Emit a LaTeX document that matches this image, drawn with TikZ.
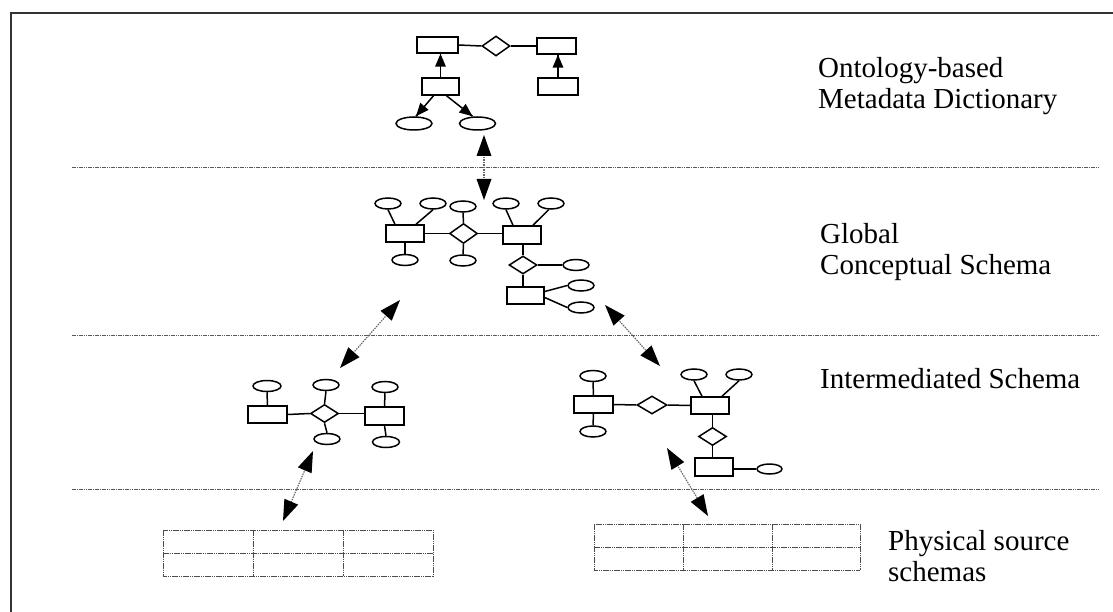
\documentclass[tikz,border=0pt]{standalone}
\usepackage{fontspec}
\setmainfont{Liberation Serif}
\usetikzlibrary{shapes.geometric,calc}
\newcommand{\headat}[4]{\fill[black] (#1) -- ($(#1)!#3!(#2)!#4!90:(#1)$) -- ($(#1)!#3!(#2)!#4!-90:(#1)$) -- cycle;}
\begin{document}
\begin{tikzpicture}[x=1pt,y=-1pt,
  er/.style={draw=black, line width=1.5pt},
  ent/.style={er, rectangle, minimum width=38pt, minimum height=17pt, inner sep=0pt},
  rel/.style={er, diamond, minimum width=28pt, minimum height=19pt, inner sep=0pt},
  attr/.style={er, ellipse, minimum width=26pt, minimum height=11pt, inner sep=0pt},
  bigattr/.style={er, ellipse, minimum width=36pt, minimum height=13pt, inner sep=0pt},
  sep/.style={draw=black!65, line width=0.9pt, dash pattern=on 1.6pt off 0.7pt},
  map/.style={draw=black!60, line width=1.1pt, dash pattern=on 1.5pt off 1pt},
  tbl/.style={draw=black!70, line width=0.9pt, dash pattern=on 1.6pt off 0.6pt},
  lbl/.style={font=\fontsize{29}{31}\selectfont, inner sep=0pt, anchor=west, align=left}
]
\useasboundingbox[fill=white] (0,0) rectangle (1113,612);
% frame
\coordinate (fTL) at (11,13);
\coordinate (fTR) at (1113,13);
\coordinate (fBL) at (11,612);
\draw[line width=1.6pt, black!80] (fBL) -- (fTL) -- (fTR);
% separators
\coordinate (s1a) at (72,167); \coordinate (s1b) at (1098,167);
\coordinate (s2a) at (72,335); \coordinate (s2b) at (1098,335);
\coordinate (s3a) at (72,489); \coordinate (s3b) at (1100,489);
\draw[sep] (s1a) -- (s1b);
\draw[sep] (s2a) -- (s2b);
\draw[sep] (s3a) -- (s3b);

% ---------- Ontology-based metadata dictionary ----------
\node[ent, minimum width=41pt, minimum height=16pt] (oA) at (437.5,45) {};
\node[rel, minimum height=20pt] (oR) at (496,46) {};
\node[ent, minimum width=39pt, minimum height=16pt] (oB) at (556.5,46) {};
\node[ent, minimum width=37pt] (oC) at (440.5,86.5) {};
\node[ent, minimum width=40pt] (oD) at (558,86.5) {};
\node[bigattr] (oE1) at (414,123.5) {};
\node[bigattr] (oE2) at (477.5,123.5) {};
\draw[er] (oA.east) -- (oR.west);
\draw[er] (oR.east) -- (oB.west);
\coordinate (i1s) at (oC.north); \coordinate (i1t) at (oC.north |- oA.south);
\coordinate (i2s) at (oD.north); \coordinate (i2t) at (oD.north |- oB.south);
\coordinate (i3s) at ([xshift=-7pt]oC.south); \coordinate (i3t) at ([xshift=2pt]oE1.north);
\coordinate (i4s) at ([xshift=6pt]oC.south); \coordinate (i4t) at ([xshift=-5pt]oE2.north);
\draw[er] (i1s) -- (i1t); \headat{i1t}{i1s}{13pt}{5.5pt}
\draw[er] (i2s) -- (i2t); \headat{i2t}{i2s}{13pt}{5.5pt}
\draw[er] (i3s) -- (i3t); \headat{i3t}{i3s}{13pt}{5.5pt}
\draw[er] (i4s) -- (i4t); \headat{i4t}{i4s}{13pt}{5.5pt}

% ---------- Global conceptual schema ----------
\node[attr] (g1) at (388,203.5) {};
\node[attr] (g2) at (433,203.5) {};
\node[attr] (g3) at (463,206.5) {};
\node[attr] (g4) at (506,203.5) {};
\node[attr] (g5) at (551,203.5) {};
\node[ent] (gR1) at (405,233.5) {};
\node[rel, minimum height=20pt] (gD1) at (463.5,233.5) {};
\node[ent, minimum height=18pt] (gR2) at (522,235) {};
\node[attr] (gb1) at (405,260) {};
\node[attr] (gb2) at (463,260.5) {};
\node[rel, minimum height=18pt] (gD2) at (523,265) {};
\node[attr] (gr1) at (576,265) {};
\node[ent, minimum width=37pt] (gR3) at (525.5,295.5) {};
\node[attr] (gr2) at (581,285.5) {};
\node[attr] (gr3) at (581,307.5) {};
\draw[er] (g1.south) -- ([xshift=-10pt]gR1.north);
\draw[er] (g2.south) -- ([xshift=11pt]gR1.north);
\draw[er] (gR1.east) -- (gD1.west);
\draw[er] (gD1.east) -- (gD1.east -| gR2.west);
\draw[er] (g3.south) -- (gD1.north);
\draw[er] (gD1.south) -- (gb2.north);
\draw[er] (gR1.south) -- (gb1.north);
\draw[er] (g4.south) -- ([xshift=-9pt]gR2.north);
\draw[er] (g5.250) -- ([xshift=11pt]gR2.north);
\draw[er] (gD2.north |- gR2.south) -- (gD2.north);
\draw[er] (gD2.east) -- (gr1.west);
\draw[er] (gD2.south) -- (gD2.south |- gR3.north);
\draw[er] ([yshift=4pt]gR3.east) -- (gr2.west);
\draw[er] ([yshift=-2pt]gR3.east) -- (gr3.west);

% ---------- Intermediated schema, left ----------
\node[attr, minimum width=28pt] (la1) at (267,386) {};
\node[ent, minimum width=39pt] (lr1) at (267.5,414.5) {};
\node[attr] (la2) at (326,385) {};
\node[rel, minimum height=18pt] (ld) at (324.5,413.5) {};
\node[attr] (la3) at (327,439) {};
\node[ent, minimum width=39pt, minimum height=18pt] (lr2) at (384.5,416) {};
\node[attr] (la4) at (385,387) {};
\node[attr, minimum width=27pt] (la5) at (386,442) {};
\draw[er] (la1.south) -- (lr1.north);
\draw[er] (lr1.east) -- (ld.west);
\draw[er] (ld.east) -- (ld.east -| lr2.west);
\draw[er] (la2.south) -- (ld.north);
\draw[er] (ld.south) -- (la3.north);
\draw[er] (la4.south) -- (lr2.north);
\draw[er] (lr2.south) -- (la5.north);

% ---------- Intermediated schema, right ----------
\node[attr] (rb1) at (593,376) {};
\node[ent, minimum width=39pt] (rs1) at (593.5,404.5) {};
\node[attr] (rb2) at (593,431.5) {};
\node[rel, minimum width=30pt, minimum height=18pt] (rd1) at (652,405) {};
\node[ent] (rs2) at (710,405.5) {};
\node[attr] (rb3) at (694,374.5) {};
\node[attr] (rb4) at (739,374.5) {};
\node[rel, minimum height=18pt] (rd2) at (712.5,436.5) {};
\node[ent, minimum height=18pt] (rs3) at (714,467) {};
\node[attr, minimum width=25pt, minimum height=10pt] (rb5) at (769.5,469) {};
\draw[er] (rb1.south) -- (rs1.north);
\draw[er] (rs1.south) -- (rb2.north);
\draw[er] (rs1.east) -- (rd1.west);
\draw[er] (rd1.east) -- (rs2.west);
\draw[er] (rb3.south) -- ([xshift=-8pt]rs2.north);
\draw[er] (rb4.south) -- ([xshift=12pt]rs2.north);
\draw[er] (rd2.north |- rs2.south) -- (rd2.north);
\draw[er] (rd2.south) -- (rd2.south |- rs3.north);
\draw[er] (rs3.east |- rb5.west) -- (rb5.west);

% ---------- Physical source tables ----------
\draw[tbl] (163,530) rectangle (433,576);
\draw[tbl] (163,553) -- (433,553);
\draw[tbl] (253,530) -- (253,576);
\draw[tbl] (343,530) -- (343,576);
\draw[tbl] (594,524) rectangle (860,570);
\draw[tbl] (594,547) -- (860,547);
\draw[tbl] (683,524) -- (683,570);
\draw[tbl] (772,524) -- (772,570);

% ---------- mapping arrows ----------
\coordinate (m1a) at (484,135); \coordinate (m1b) at (484,200);
\coordinate (m2a) at (400,300); \coordinate (m2b) at (340,368);
\coordinate (m3a) at (605,305); \coordinate (m3b) at (660,366);
\coordinate (m4a) at (313,451); \coordinate (m4b) at (283,521);
\coordinate (m5a) at (667,448); \coordinate (m5b) at (708,516);
\foreach \a/\b in {m1a/m1b, m2a/m2b, m3a/m3b, m4a/m4b, m5a/m5b}{
  \draw[map] ($(\a)!12pt!(\b)$) -- ($(\b)!12pt!(\a)$);
  \headat{\a}{\b}{21pt}{7.5pt}
  \headat{\b}{\a}{21pt}{7.5pt}
}

% ---------- labels ----------
\node[lbl] (tOnt) at (818,86) {Ontology-based\\Metadata Dictionary};
\node[lbl] (tGcs) at (820,252) {Global\\Conceptual Schema};
\node[lbl] (tInt) at (820,379) {Intermediated Schema};
\node[lbl] (tPhy) at (888,556) {Physical source\\schemas};
\end{tikzpicture}
\end{document}
